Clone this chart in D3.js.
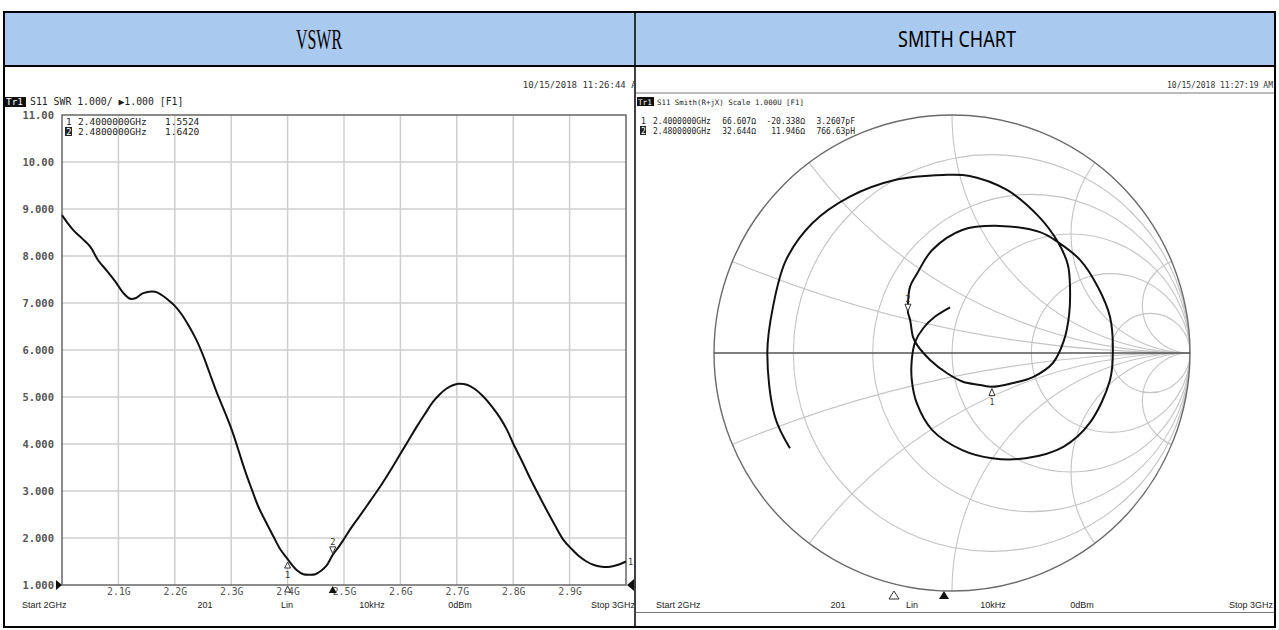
<!DOCTYPE html>
<html><head><meta charset="utf-8">
<script src="https://cdn.jsdelivr.net/npm/d3@7"></script>
<style>body{margin:0;background:#fff}</style>
</head><body><svg id="c" width="1279" height="630"></svg>
<script>
// ---------- data ----------
const panelTitles = ["VSWR", "SMITH CHART"];
const vswrFreq = [2.000,2.010,2.020,2.035,2.050,2.064,2.080,2.095,2.109,2.121,2.130,2.144,2.165,2.178,2.190,2.200,2.212,2.224,2.238,2.251,2.262,2.274,2.288,2.301,2.312,2.324,2.336,2.348,2.362,2.375,2.387,2.400,2.416,2.428,2.440,2.449,2.460,2.469,2.480,2.490,2.499,2.513,2.528,2.546,2.564,2.582,2.599,2.614,2.629,2.644,2.658,2.670,2.682,2.693,2.703,2.718,2.732,2.747,2.762,2.777,2.789,2.800,2.815,2.830,2.845,2.859,2.874,2.889,2.904,2.918,2.930,2.942,2.957,2.972,2.986,3.000];
const vswrValue = [8.87,8.70,8.55,8.38,8.20,7.91,7.68,7.45,7.21,7.09,7.10,7.21,7.24,7.16,7.05,6.94,6.76,6.53,6.22,5.86,5.50,5.11,4.70,4.30,3.90,3.45,3.05,2.67,2.33,2.03,1.76,1.55,1.32,1.23,1.22,1.23,1.31,1.41,1.64,1.80,1.96,2.22,2.47,2.78,3.09,3.43,3.77,4.07,4.37,4.65,4.90,5.06,5.18,5.25,5.28,5.26,5.17,5.01,4.80,4.55,4.30,4.01,3.65,3.27,2.92,2.60,2.27,1.96,1.76,1.60,1.50,1.43,1.39,1.39,1.43,1.50];
const yTicks = [1,2,3,4,5,6,7,8,9,10,11];
const yTickLabels = ["1.000","2.000","3.000","4.000","5.000","6.000","7.000","8.000","9.000","10.00","11.00"];
const xTicks = [2.1,2.2,2.3,2.4,2.5,2.6,2.7,2.8,2.9];
const xTickLabels = ["2.1G","2.2G","2.3G","2.4G","2.5G","2.6G","2.7G","2.8G","2.9G"];
const markerFreq = [2.4, 2.48];
const markerVswr = [1.5524, 1.6420];
const markerFreqText = ["2.4000000GHz","2.4800000GHz"];
const markerVswrText = ["1.5524","1.6420"];
const markerRText = ["66.607\u03a9","32.644\u03a9"];
const markerXText = ["-20.338\u03a9","11.946\u03a9"];
const markerLCText = ["3.2607pF","766.63pH"];
// Smith trace as reflection coefficient (real, imag), 2 GHz -> 3 GHz
const smithRe = [-0.681,-0.744,-0.776,-0.752,-0.697,-0.587,-0.429,-0.240,-0.036,0.074,0.231,0.365,0.445,0.487,0.496,0.492,0.471,0.424,0.340,0.256,0.167,0.118,0.046,-0.022,-0.092,-0.147,-0.164,-0.176,-0.185,-0.185,-0.176,-0.146,-0.083,0.043,0.200,0.370,0.445,0.538,0.613,0.664,0.676,0.664,0.578,0.468,0.310,0.168,0.043,-0.083,-0.148,-0.169,-0.169,-0.155,-0.121,-0.071,-0.008];
const smithIm = [-0.400,-0.268,-0.001,0.195,0.391,0.545,0.657,0.727,0.748,0.744,0.685,0.573,0.466,0.370,0.265,0.160,0.055,-0.042,-0.101,-0.126,-0.142,-0.134,-0.121,-0.084,-0.029,0.034,0.068,0.139,0.171,0.210,0.279,0.335,0.433,0.517,0.534,0.508,0.466,0.391,0.277,0.151,0.013,-0.113,-0.295,-0.394,-0.442,-0.442,-0.408,-0.324,-0.211,-0.113,-0.029,0.046,0.104,0.153,0.192];
const smithMarkerRe = [0.1677, -0.1852];
const smithMarkerIm = [-0.1453, 0.1713];
const resCircles = [0.2, 0.5, 1, 2, 5];
const reactArcs = [0.2, 0.5, 1, 2, 5];
const statusLeft = ["Start 2GHz","201","Lin","10kHz","0dBm","Stop 3GHz"];

// ---------- drawing ----------
const svg = d3.select("#c");
const defs = svg.append("defs");
const mono = "'DejaVu Sans Mono', monospace";
const sans = "'Liberation Sans', Arial, sans-serif";

// table header
svg.append("rect").attr("x",4).attr("y",12).attr("width",1271).attr("height",54).attr("fill","#a9c9ee");
svg.append("text").attr("x",319).attr("y",49).attr("text-anchor","middle")
  .attr("font-family","'Liberation Serif', serif").attr("font-size",29)
  .attr("textLength",46).attr("lengthAdjust","spacingAndGlyphs").text(panelTitles[0]);
svg.append("text").attr("x",957).attr("y",47).attr("text-anchor","middle")
  .attr("font-family","'Noto Sans', sans-serif").attr("font-size",21)
  .attr("textLength",118).attr("lengthAdjust","spacingAndGlyphs").text(panelTitles[1]);

// ---------- left: VSWR ----------
defs.append("clipPath").attr("id","clipL").append("rect").attr("x",5).attr("y",67).attr("width",629).attr("height",559);
const L = svg.append("g").attr("clip-path","url(#clipL)");
L.append("text").attr("x",642).attr("y",88).attr("text-anchor","end").attr("font-family",mono)
  .attr("font-size",9).attr("fill","#333").text("10/15/2018 11:26:44 AM");
L.append("rect").attr("x",5).attr("y",97).attr("width",21).attr("height",10).attr("fill","#111");
L.append("text").attr("x",6).attr("y",105).attr("font-family",mono).attr("font-size",9.4).attr("fill","#fff").text("Tr1");
L.append("text").attr("x",30).attr("y",105).attr("font-family",mono).attr("font-size",9.8).attr("fill","#222")
  .text("S11 SWR 1.000/ \u25b61.000 [F1]");

const px0 = 62, px1 = 626, py0 = 115, py1 = 585;
const x = d3.scaleLinear().domain([2,3]).range([px0,px1]);
const y = d3.scaleLinear().domain([1,11]).range([py1,py0]);

// grid
L.append("g").selectAll("line").data(xTicks).join("line")
  .attr("x1",d=>x(d)).attr("x2",d=>x(d)).attr("y1",py0).attr("y2",py1)
  .attr("stroke","#cfcfcf").attr("stroke-width",1.5);
L.append("g").selectAll("line").data(yTicks.slice(1,-1)).join("line")
  .attr("y1",d=>y(d)).attr("y2",d=>y(d)).attr("x1",px0).attr("x2",px1)
  .attr("stroke","#cfcfcf").attr("stroke-width",1.5);
L.append("rect").attr("x",px0).attr("y",py0).attr("width",px1-px0).attr("height",py1-py0)
  .attr("fill","none").attr("stroke","#666").attr("stroke-width",1.5);

// axes labels
const yAxis = d3.axisLeft(y).tickValues(yTicks).tickSize(0).tickPadding(8)
  .tickFormat((d,i)=>yTickLabels[i]);
const yg = L.append("g").attr("transform",`translate(${px0},0)`).call(yAxis);
yg.select(".domain").remove();
yg.selectAll("text").attr("font-family",mono).attr("font-size",10.5).attr("font-weight","bold").attr("fill","#555");
const xAxis = d3.axisBottom(x).tickValues(xTicks).tickSize(0).tickPadding(3)
  .tickFormat((d,i)=>xTickLabels[i]);
const xg = L.append("g").attr("transform",`translate(0,${py1})`).call(xAxis);
xg.select(".domain").remove();
xg.selectAll("text").attr("font-family",mono).attr("font-size",9.8).attr("fill","#555");

// marker table
[0,1].forEach(i=>{
  const by = 125 + i*10;
  if(i===1){ L.append("rect").attr("x",65).attr("y",by-8).attr("width",7).attr("height",9).attr("fill","#222"); }
  L.append("text").attr("x",66).attr("y",by).attr("font-family",mono).attr("font-size",9.3)
    .attr("fill",i===1?"#fff":"#222").text(String(i+1));
  L.append("text").attr("x",78).attr("y",by).attr("font-family",mono).attr("font-size",9.5).attr("fill","#222").text(markerFreqText[i]);
  L.append("text").attr("x",165).attr("y",by).attr("font-family",mono).attr("font-size",9.5).attr("fill","#222").text(markerVswrText[i]);
});

// trace
const vline = d3.line().x(d=>x(d[0])).y(d=>y(d[1])).curve(d3.curveCatmullRom.alpha(0.5));
L.append("path").datum(vswrFreq.map((f,i)=>[f,vswrValue[i]])).attr("d",vline)
  .attr("fill","none").attr("stroke","#111").attr("stroke-width",2);

// markers on trace
{
  const mx = x(markerFreq[0]), my = y(markerVswr[0]);
  L.append("path").attr("d",`M${mx},${my+3}l-3,6h6z`).attr("fill","#fff").attr("stroke","#333");
  L.append("text").attr("x",mx).attr("y",my+19).attr("text-anchor","middle").attr("font-family",mono).attr("font-size",8.5).attr("fill","#333").text("1");
  const mx2 = x(markerFreq[1]), my2 = y(markerVswr[1]);
  L.append("path").attr("d",`M${mx2},${my2-1}l-3,-7h6z`).attr("fill","#fff").attr("stroke","#333");
  L.append("text").attr("x",mx2).attr("y",my2-10).attr("text-anchor","middle").attr("font-family",mono).attr("font-size",8.5).attr("fill","#333").text("2");
  // axis marker indicators
  L.append("path").attr("d",`M${mx},${py1+1}l-3,6h6z`).attr("fill","#fff").attr("stroke","#333");
  L.append("path").attr("d",`M${mx2},${py1+1}l-4,7h8z`).attr("fill","#111");
  // reference level triangles
  L.append("path").attr("d",`M${px0-6},${py1-5}l6,5l-6,5z`).attr("fill","#111");
  L.append("path").attr("d",`M${px1+1},${py1}l7,-6v12z`).attr("fill","#111");
  L.append("text").attr("x",px1+2).attr("y",y(vswrValue[vswrValue.length-1])+3).attr("font-family",mono).attr("font-size",8.5).attr("fill","#333").text("1");
}

// status line
const statusXL = [22,205,287,372,460,635];
statusLeft.forEach((s,i)=>{
  L.append("text").attr("x",statusXL[i]).attr("y",608)
    .attr("text-anchor", i===0?"start":(i===5?"end":"middle"))
    .attr("font-family",sans).attr("font-size",9).attr("fill","#222").text(s);
});

// ---------- right: Smith ----------
defs.append("clipPath").attr("id","clipR").append("rect").attr("x",636).attr("y",67).attr("width",638).attr("height",559);
const R = svg.append("g").attr("clip-path","url(#clipR)");
R.append("text").attr("x",1273).attr("y",88).attr("text-anchor","end").attr("font-family",mono)
  .attr("font-size",8).attr("fill","#333").text("10/15/2018 11:27:19 AM");
R.append("line").attr("x1",636).attr("x2",1275).attr("y1",93).attr("y2",93).attr("stroke","#777").attr("stroke-width",1);
R.append("rect").attr("x",637).attr("y",97).attr("width",17).attr("height",9).attr("fill","#111");
R.append("text").attr("x",638).attr("y",105).attr("font-family",mono).attr("font-size",7.6).attr("fill","#fff").text("Tr1");
R.append("text").attr("x",657).attr("y",105).attr("font-family",mono).attr("font-size",7.4).attr("fill","#222")
  .text("S11 Smith(R+jX) Scale 1.000U [F1]");

const cx = 952, cy = 353, Rad = 238;
const gx = d3.scaleLinear().domain([-1,1]).range([cx-Rad, cx+Rad]);
const gy = d3.scaleLinear().domain([-1,1]).range([cy+Rad, cy-Rad]);
const k = Rad; // pixels per unit of Gamma
defs.append("clipPath").attr("id","clipS").append("circle").attr("cx",gx(0)).attr("cy",gy(0)).attr("r",k);
const S = R.append("g");
const SG = S.append("g").attr("clip-path","url(#clipS)");
SG.selectAll("circle.r").data(resCircles).join("circle").attr("class","r")
  .attr("cx",r=>gx(r/(1+r))).attr("cy",gy(0)).attr("r",r=>k/(1+r))
  .attr("fill","none").attr("stroke","#c4c4c4").attr("stroke-width",1.1);
SG.selectAll("circle.xp").data(reactArcs.flatMap(v=>[v,-v])).join("circle").attr("class","xp")
  .attr("cx",gx(1)).attr("cy",v=>gy(1/v)).attr("r",v=>k/Math.abs(v))
  .attr("fill","none").attr("stroke","#c4c4c4").attr("stroke-width",1.1);
S.append("circle").attr("cx",gx(0)).attr("cy",gy(0)).attr("r",k).attr("fill","none").attr("stroke","#6a6a6a").attr("stroke-width",1.4);
S.append("line").attr("x1",gx(-1)).attr("x2",gx(1)).attr("y1",gy(0)).attr("y2",gy(0)).attr("stroke","#555").attr("stroke-width",1.4);

const sline = d3.line().x(d=>gx(d[0])).y(d=>gy(d[1])).curve(d3.curveCatmullRom.alpha(0.5));
S.append("path").datum(smithRe.map((r,i)=>[r,smithIm[i]])).attr("d",sline)
  .attr("fill","none").attr("stroke","#111").attr("stroke-width",2);

{
  const m1x = gx(smithMarkerRe[0]), m1y = gy(smithMarkerIm[0]);
  S.append("path").attr("d",`M${m1x},${m1y+1}l-3,7h6z`).attr("fill","#fff").attr("stroke","#333");
  S.append("text").attr("x",m1x).attr("y",m1y+17).attr("text-anchor","middle").attr("font-family",mono).attr("font-size",8).attr("fill","#333").text("1");
  const m2x = gx(smithMarkerRe[1]), m2y = gy(smithMarkerIm[1]);
  S.append("path").attr("d",`M${m2x},${m2y-1}l-3,-7h6z`).attr("fill","#fff").attr("stroke","#333");
  S.append("text").attr("x",m2x).attr("y",m2y-10).attr("text-anchor","middle").attr("font-family",mono).attr("font-size",8).attr("fill","#333").text("2");
}
// marker table
[0,1].forEach(i=>{
  const by = 124 + i*10;
  if(i===1){ R.append("rect").attr("x",640).attr("y",by-8).attr("width",6).attr("height",9).attr("fill","#222"); }
  R.append("text").attr("x",641).attr("y",by).attr("font-family",mono).attr("font-size",8).attr("fill",i===1?"#fff":"#222").text(String(i+1));
  R.append("text").attr("x",653).attr("y",by).attr("font-family",mono).attr("font-size",8).attr("fill","#222").text(markerFreqText[i]);
  R.append("text").attr("x",756).attr("y",by).attr("text-anchor","end").attr("font-family",mono).attr("font-size",8).attr("fill","#222").text(markerRText[i]);
  R.append("text").attr("x",805).attr("y",by).attr("text-anchor","end").attr("font-family",mono).attr("font-size",8).attr("fill","#222").text(markerXText[i]);
  R.append("text").attr("x",855).attr("y",by).attr("text-anchor","end").attr("font-family",mono).attr("font-size",8).attr("fill","#222").text(markerLCText[i]);
});
// frequency indicators under the chart
const fx = d3.scaleLinear().domain([2,3]).range([644,1269]);
R.append("path").attr("d",`M${fx(markerFreq[0])},${591}l-5,8h10z`).attr("fill","#fff").attr("stroke","#333");
R.append("path").attr("d",`M${fx(markerFreq[1])},${591}l-5,8h10z`).attr("fill","#111");
const statusXR = [656,838,912,993,1082,1273];
statusLeft.forEach((s,i)=>{
  R.append("text").attr("x",statusXR[i]).attr("y",608)
    .attr("text-anchor", i===0?"start":(i===5?"end":"middle"))
    .attr("font-family",sans).attr("font-size",9).attr("fill","#222").text(s);
});
R.append("line").attr("x1",636).attr("x2",1275).attr("y1",612.5).attr("y2",612.5).attr("stroke","#777").attr("stroke-width",1);

// table borders
svg.append("rect").attr("x",4).attr("y",12).attr("width",1271).attr("height",615).attr("fill","none").attr("stroke","#000").attr("stroke-width",2);
svg.append("line").attr("x1",4).attr("x2",1275).attr("y1",66).attr("y2",66).attr("stroke","#000").attr("stroke-width",2);
svg.append("line").attr("x1",635).attr("x2",635).attr("y1",12).attr("y2",627).attr("stroke","#000").attr("stroke-width",1.5);
</script></body></html>
